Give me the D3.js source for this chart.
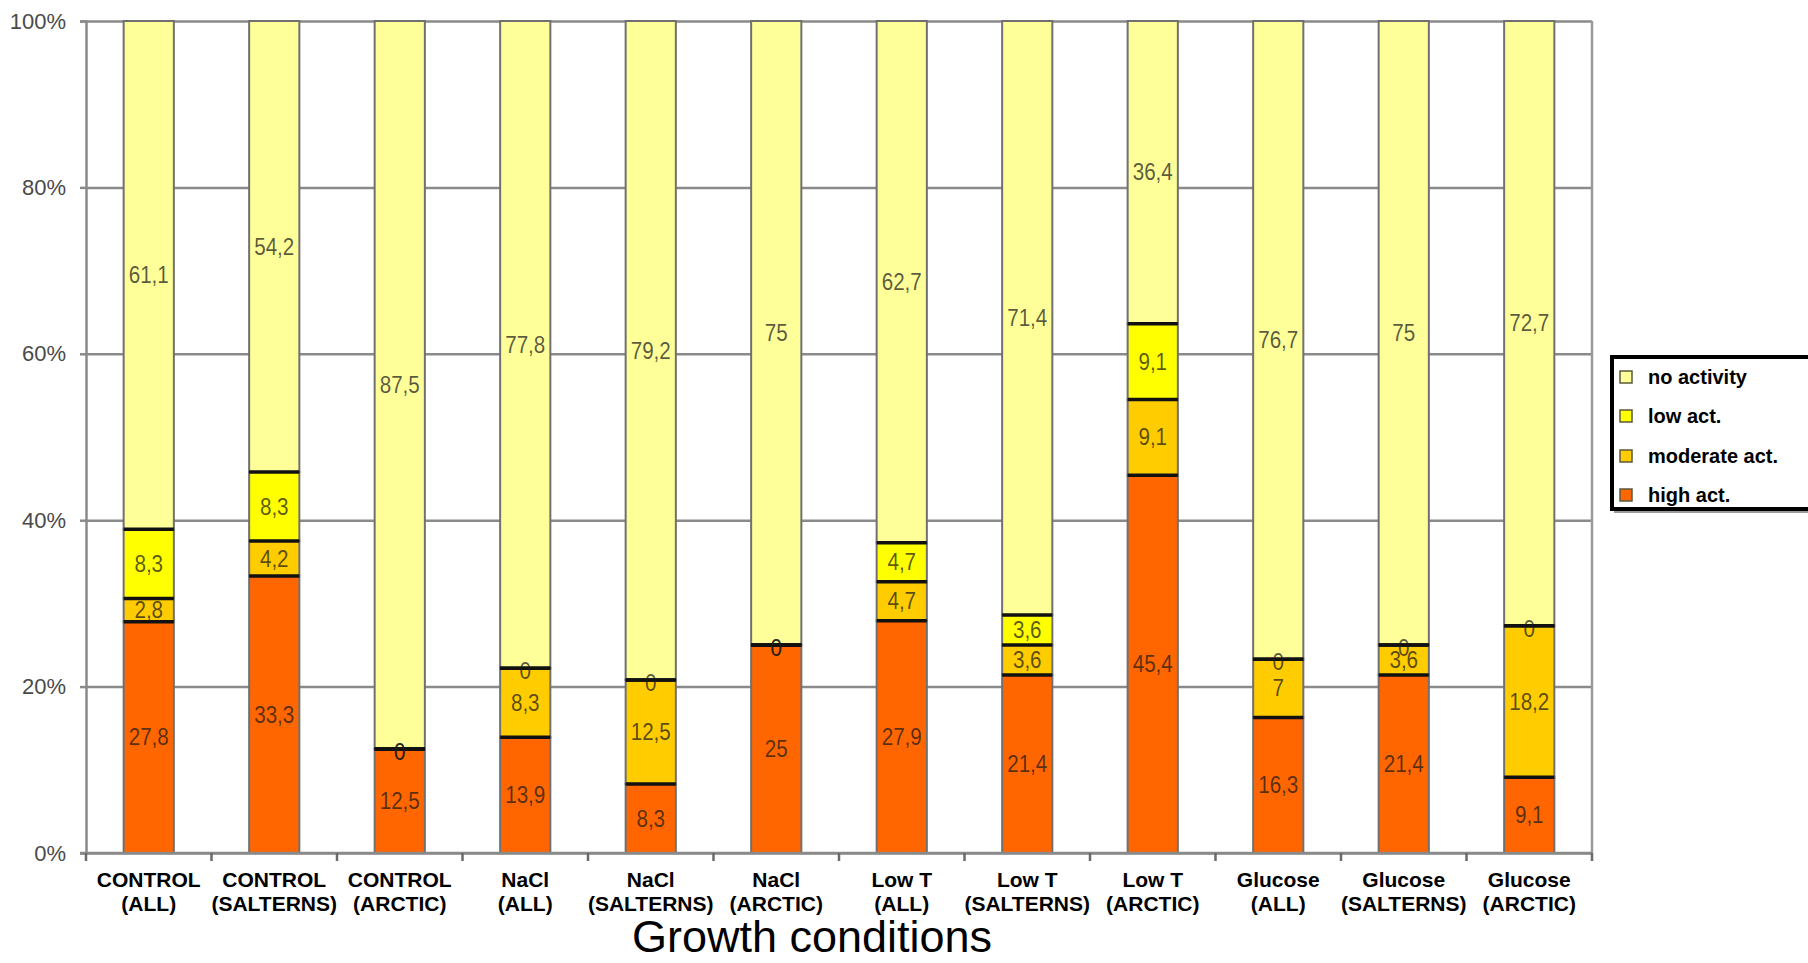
<!DOCTYPE html>
<html>
<head>
<meta charset="utf-8">
<script src="https://cdn.jsdelivr.net/npm/d3@7"></script>
<style>
  html, body { margin: 0; padding: 0; background: #fff; }
  svg { display: block; }
  text { font-family: "Liberation Sans", Arial, sans-serif; }
</style>
</head>
<body>
<svg id="chart" width="1808" height="963"></svg>
<script>
// Growth conditions (two-line labels)
const conditions = ["CONTROL", "CONTROL", "CONTROL", "NaCl", "NaCl", "NaCl",
                    "Low T", "Low T", "Low T", "Glucose", "Glucose", "Glucose"];
const origins = ["(ALL)", "(SALTERNS)", "(ARCTIC)", "(ALL)", "(SALTERNS)", "(ARCTIC)",
                 "(ALL)", "(SALTERNS)", "(ARCTIC)", "(ALL)", "(SALTERNS)", "(ARCTIC)"];

// Percentage of isolates per activity class, stacked bottom to top
const highAct     = [27.8, 33.3, 12.5, 13.9, 8.3, 25, 27.9, 21.4, 45.4, 16.3, 21.4, 9.1];
const moderateAct = [2.8, 4.2, 0, 8.3, 12.5, 0, 4.7, 3.6, 9.1, 7, 3.6, 18.2];
const lowAct      = [8.3, 8.3, 0, 0, 0, 0, 4.7, 3.6, 9.1, 0, 0, 0];
const noActivity  = [61.1, 54.2, 87.5, 77.8, 79.2, 75, 62.7, 71.4, 36.4, 76.7, 75, 72.7];

const seriesNames = ["high act.", "moderate act.", "low act.", "no activity"];
const seriesColors = ["#FF6600", "#FFCC00", "#FFFF00", "#FFFF99"];
const yTicks = [0, 20, 40, 60, 80, 100];
const xTitle = "Growth conditions";

const svg = d3.select("#chart");
const plotLeft = 86, plotRight = 1592, plotTop = 21, plotBottom = 853;

const keys = conditions.map((c, i) => i);
const x = d3.scaleBand().domain(keys).range([plotLeft, plotRight]).paddingInner(0.6).paddingOuter(0.3);
const y = d3.scaleLinear().domain([0, 100]).range([plotBottom, plotTop]);

const rows = keys.map(i => ({
  i,
  "high act.": highAct[i],
  "moderate act.": moderateAct[i],
  "low act.": lowAct[i],
  "no activity": noActivity[i]
}));
const stacked = d3.stack().keys(seriesNames)(rows);

// horizontal gridlines
svg.append("g")
  .attr("transform", `translate(${plotLeft},0)`)
  .call(d3.axisLeft(y).tickValues(yTicks).tickSize(-(plotRight - plotLeft)).tickFormat(""))
  .call(g => g.select(".domain").remove())
  .call(g => g.selectAll("line").attr("stroke", "#8a8a8a").attr("stroke-width", 2.5));

// right border of plot area
svg.append("line")
  .attr("x1", plotRight).attr("x2", plotRight).attr("y1", plotTop).attr("y2", plotBottom)
  .attr("stroke", "#9a9a9a").attr("stroke-width", 2.5);

// stacked bar segments
const seg = svg.append("g");
stacked.forEach((layer, li) => {
  seg.selectAll(null)
    .data(layer)
    .join("rect")
    .attr("x", d => x(d.data.i))
    .attr("width", x.bandwidth())
    .attr("y", d => y(d[1]))
    .attr("height", d => y(d[0]) - y(d[1]))
    .attr("fill", seriesColors[li])
    .attr("stroke", "#707070")
    .attr("stroke-width", 2);
});

// dark boundaries between segments
stacked.slice(0, 3).forEach(layer => {
  svg.append("g").selectAll(null)
    .data(layer)
    .join("line")
    .attr("x1", d => x(d.data.i))
    .attr("x2", d => x(d.data.i) + x.bandwidth())
    .attr("y1", d => y(d[1]))
    .attr("y2", d => y(d[1]))
    .attr("stroke", "#111")
    .attr("stroke-width", 3.5);
});

// value labels in each segment
const fmt = v => String(v).replace(".", ",");
stacked.forEach(layer => {
  svg.append("g").selectAll(null)
    .data(layer)
    .join("text")
    .attr("transform", d => {
      const cx = x(d.data.i) + x.bandwidth() / 2;
      const cy = (y(d[0]) + y(d[1])) / 2 + (d[1] - d[0] === 0 ? 3 : 0);
      return `translate(${cx},${cy}) scale(0.86,1)`;
    })
    .attr("text-anchor", "middle")
    .attr("dominant-baseline", "central")
    .attr("font-size", 24)
    .attr("fill", "#1a1a1a")
    .attr("fill-opacity", 0.72)
    .text(d => fmt(d[1] - d[0] === 0 ? 0 : +(d[1] - d[0]).toFixed(1)));
});

// y axis
svg.append("g")
  .attr("transform", `translate(${plotLeft},0)`)
  .call(d3.axisLeft(y).tickValues(yTicks).tickSize(6).tickPadding(14).tickFormat(d => d + "%"))
  .call(g => g.select(".domain").attr("stroke", "#8a8a8a").attr("stroke-width", 2.5))
  .call(g => g.selectAll("line").attr("stroke", "#8a8a8a").attr("stroke-width", 2.5))
  .call(g => g.selectAll("text")
    .attr("font-family", "'Liberation Sans', Arial, sans-serif")
    .attr("font-size", 22).attr("fill", "#4a4a4a"));

// x baseline with ticks at category boundaries
svg.append("line")
  .attr("x1", plotLeft - 6).attr("x2", plotRight).attr("y1", plotBottom).attr("y2", plotBottom)
  .attr("stroke", "#8a8a8a").attr("stroke-width", 2.5);
const bounds = d3.range(keys.length + 1).map(k => plotLeft + k * x.step());
svg.append("g").selectAll(null)
  .data(bounds)
  .join("line")
  .attr("x1", d => d).attr("x2", d => d)
  .attr("y1", plotBottom).attr("y2", plotBottom + 8)
  .attr("stroke", "#6a6a6a").attr("stroke-width", 2.5);

// category labels
const xl = svg.append("g").selectAll(null)
  .data(keys)
  .join("text")
  .attr("text-anchor", "middle")
  .attr("font-weight", "bold")
  .attr("font-size", 21)
  .attr("fill", "#000");
xl.append("tspan")
  .attr("x", i => x(i) + x.bandwidth() / 2)
  .attr("y", 887)
  .text(i => conditions[i]);
xl.append("tspan")
  .attr("x", i => x(i) + x.bandwidth() / 2)
  .attr("y", 911)
  .text(i => origins[i]);

// axis title
svg.append("text")
  .attr("x", 812).attr("y", 952)
  .attr("text-anchor", "middle")
  .attr("font-size", 45)
  .attr("fill", "#000")
  .text(xTitle);

// legend
const lg = svg.append("g");
lg.append("rect")
  .attr("x", 1614).attr("y", 359).attr("width", 260).attr("height", 154)
  .attr("fill", "#9a9a9a");
lg.append("rect")
  .attr("x", 1612).attr("y", 357).attr("width", 260).attr("height", 152)
  .attr("fill", "#fff").attr("stroke", "#000").attr("stroke-width", 4);
const legendOrder = [3, 2, 1, 0];
const legendY = [377, 416, 456, 495];
legendOrder.forEach((si, k) => {
  lg.append("rect")
    .attr("x", 1620).attr("y", legendY[k] - 6)
    .attr("width", 12).attr("height", 12)
    .attr("fill", seriesColors[si])
    .attr("stroke", "#5a5a3a").attr("stroke-width", 1.5);
  lg.append("text")
    .attr("x", 1648).attr("y", legendY[k])
    .attr("dominant-baseline", "central")
    .attr("font-weight", "bold")
    .attr("font-size", 20)
    .attr("fill", "#000")
    .text(seriesNames[si]);
});
</script>
</body>
</html>
